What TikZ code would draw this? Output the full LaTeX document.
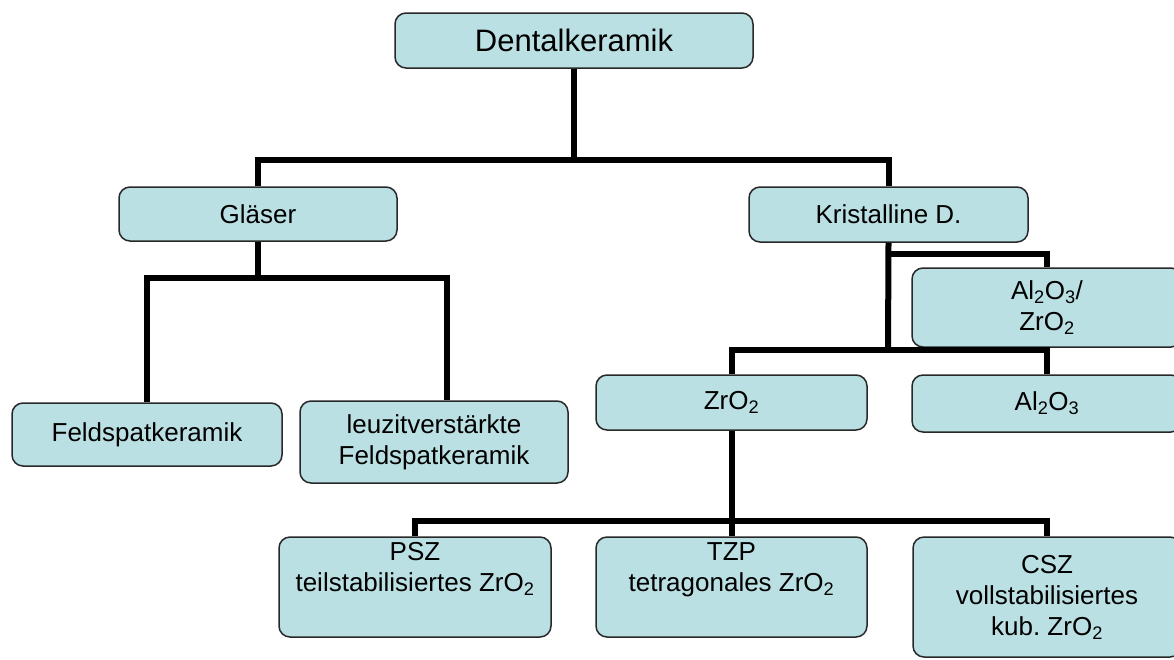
\documentclass[tikz,border=0pt]{standalone}
\usepackage{fontspec}
\setmainfont{Liberation Sans}
\definecolor{boxfill}{RGB}{186,224,227}
\definecolor{boxline}{RGB}{40,40,40}
\tikzset{
  box/.style={draw=boxline, line width=1.5pt, fill=boxfill, rounded corners=11pt,
    inner sep=0pt, align=center, font=\fontsize{26}{31}\selectfont},
  conn/.style={line width=6pt, draw=black},
}
\begin{document}
\begin{tikzpicture}[x=1pt,y=-1pt]
\useasboundingbox (0,0) rectangle (1174,659);
% boxes
\node[box, minimum width=358pt, minimum height=55pt, font=\fontsize{31}{36}\selectfont] (dk) at (574,40.5) {Dentalkeramik};
\node[box, minimum width=278pt, minimum height=54pt] (gl) at (258,214) {Gläser};
\node[box, minimum width=279pt, minimum height=55pt] (kr) at (888.5,214.5) {Kristalline D.};
\node[box, minimum width=270pt, minimum height=63pt] (fe) at (147,434.5) {Feldspatkeramik};
\node[box, minimum width=268pt, minimum height=82pt] (le) at (434,442) {leuzitverstärkte\\Feldspatkeramik};
\node[box, minimum width=270pt, minimum height=79pt] (az) at (1047,307.5) {Al\textsubscript{2}O\textsubscript{3}/\\ZrO\textsubscript{2}};
\node[box, minimum width=271pt, minimum height=55pt] (zr) at (731.5,402.5) {ZrO\textsubscript{2}};
\node[box, minimum width=270pt, minimum height=57pt] (al) at (1047,403.5) {Al\textsubscript{2}O\textsubscript{3}};
\node[box, minimum width=272pt, minimum height=100pt] (psz) at (415,587) {PSZ\\teilstabilisiertes ZrO\textsubscript{2}\\\strut};
\node[box, minimum width=271pt, minimum height=100pt] (tzp) at (731.5,587) {TZP\\tetragonales ZrO\textsubscript{2}\\\strut};
\node[box, minimum width=268pt, minimum height=120pt] (csz) at (1047,597) {CSZ\\vollstabilisiertes\\kub.\ ZrO\textsubscript{2}};
% junctions
\coordinate (j1) at (574,160);
\coordinate (j2) at (258,278);
\coordinate (j3a) at (888,254);
\coordinate (j3) at (888,350);
\coordinate (j4) at (731.5,521);
% connectors
\draw[conn] (dk.south) -- (j1);
\draw[conn] (gl.north) |- (j1);
\draw[conn] (kr.north) |- (j1);
\draw[conn] (gl.south) -- (j2);
\draw[conn] (fe.north) |- (j2);
\draw[conn] ([xshift=13pt]le.north) |- (j2);
\draw[conn] (kr.south) -- (j3);
\draw[conn] (az.north) |- (j3a);
\draw[conn] (zr.north) |- (j3);
\draw[conn] (al.north) |- (j3);
\draw[conn] (zr.south) -- (j4);
\draw[conn] (psz.north) |- (j4);
\draw[conn] (csz.north) |- (j4);
\draw[conn] (tzp.north) -- (j4);
\end{tikzpicture}
\end{document}
